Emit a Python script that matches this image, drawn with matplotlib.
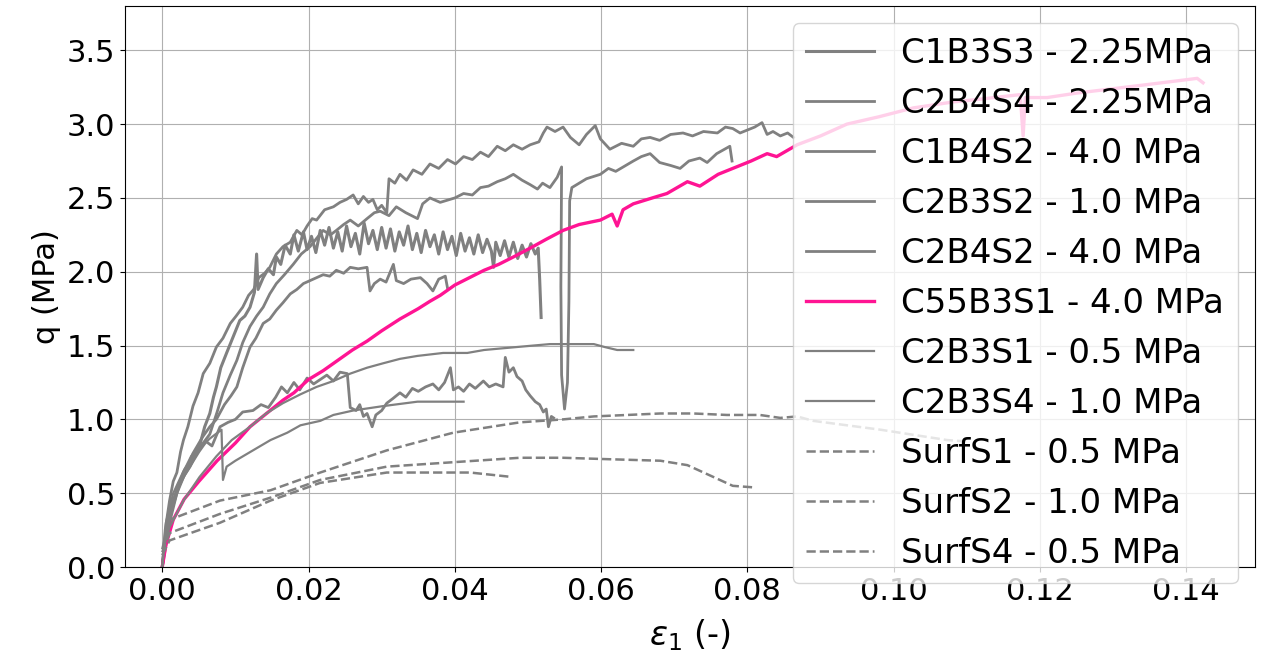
import numpy as np
import matplotlib
matplotlib.use('Agg')
import matplotlib.pyplot as plt

# strain eps_1 (-) and deviator stress q (MPa)

c1b3s3_x = [0, 0.0005, 0.001, 0.002, 0.0029, 0.004, 0.0051, 0.0058, 0.0065, 0.007,
            0.0074, 0.008, 0.0088, 0.0097, 0.0106, 0.0113, 0.012, 0.0126, 0.0129, 0.0131,
            0.0138, 0.0145, 0.0152, 0.0156, 0.0162, 0.0168, 0.0175, 0.018, 0.0186, 0.0193,
            0.0198, 0.0204, 0.021, 0.0216, 0.0222, 0.0228, 0.0234, 0.024, 0.0246, 0.0252,
            0.0258, 0.0264, 0.027, 0.0276, 0.0282, 0.0288, 0.0294, 0.03, 0.0306, 0.0312,
            0.0318, 0.0324, 0.033, 0.0336, 0.0342, 0.0348, 0.0354, 0.036, 0.0366, 0.0372,
            0.0378, 0.0384, 0.039, 0.0396, 0.0402, 0.0408, 0.0414, 0.042, 0.0426, 0.0432,
            0.0438, 0.0444, 0.045, 0.0453, 0.0456, 0.0462, 0.0468, 0.0474, 0.048, 0.0486,
            0.0492, 0.0498, 0.0504, 0.051, 0.0514, 0.0516, 0.0518]
c1b3s3_q = [0, 0.22, 0.36, 0.52, 0.64, 0.75, 0.82, 0.95, 1.04, 1.15,
            1.22, 1.35, 1.45, 1.56, 1.67, 1.70, 1.76, 1.86, 2.12, 1.88,
            1.96, 2.02, 1.98, 2.10, 2.05, 2.18, 2.12, 2.25, 2.14, 2.27,
            2.15, 2.24, 2.13, 2.28, 2.18, 2.30, 2.16, 2.27, 2.14, 2.31,
            2.17, 2.26, 2.12, 2.33, 2.19, 2.28, 2.15, 2.30, 2.16, 2.29,
            2.14, 2.27, 2.18, 2.31, 2.15, 2.26, 2.13, 2.28, 2.17, 2.25,
            2.12, 2.27, 2.15, 2.24, 2.11, 2.26, 2.14, 2.23, 2.12, 2.25,
            2.13, 2.22, 2.14, 2.03, 2.20, 2.11, 2.21, 2.10, 2.20, 2.09,
            2.18, 2.10, 2.19, 2.12, 2.16, 1.95, 1.69]

c2b4s4_x = [0, 0.001, 0.002, 0.003, 0.0042, 0.0055, 0.0065, 0.0074, 0.0085, 0.0094,
            0.0102, 0.011, 0.012, 0.0128, 0.0138, 0.0147, 0.0156, 0.0165, 0.0175, 0.0184,
            0.0193, 0.0202, 0.0211, 0.022, 0.0229, 0.0238, 0.0248, 0.0257, 0.0268, 0.028,
            0.0284, 0.029, 0.0298, 0.0306, 0.0316, 0.032, 0.033, 0.034, 0.0353, 0.0362,
            0.037, 0.0378, 0.0387, 0.039]
c2b4s4_q = [0, 0.30, 0.50, 0.62, 0.77, 0.88, 0.95, 1.00, 1.10, 1.16,
            1.22, 1.35, 1.49, 1.55, 1.65, 1.68, 1.74, 1.79, 1.85, 1.88,
            1.92, 1.94, 1.96, 1.98, 1.97, 2.01, 1.99, 2.03, 2.02, 2.03,
            1.87, 1.92, 1.95, 1.93, 2.05, 1.94, 1.92, 1.95, 1.96, 1.92,
            1.87, 1.95, 1.97, 1.89]

c1b4s2_x = [0, 0.0004, 0.001, 0.0015, 0.002, 0.0025, 0.0029, 0.0035, 0.0042, 0.0049,
            0.0056, 0.0065, 0.0074, 0.0083, 0.0093, 0.0101, 0.011, 0.0118, 0.0125, 0.0132,
            0.014, 0.0147, 0.0156, 0.0165, 0.0175, 0.0184, 0.0191, 0.0198, 0.0205, 0.0211,
            0.0222, 0.0234, 0.0243, 0.0252, 0.0261, 0.0268, 0.0275, 0.0282, 0.0288, 0.0294,
            0.030, 0.0307, 0.031, 0.0318, 0.0325, 0.0334, 0.0343, 0.0355, 0.0366, 0.0378,
            0.039, 0.0401, 0.0412, 0.0424, 0.0435, 0.0446, 0.0458, 0.0469, 0.048, 0.0492,
            0.0503, 0.0515, 0.0521, 0.0526, 0.0537, 0.0548, 0.0558, 0.057, 0.058, 0.0592,
            0.0599, 0.0612, 0.0628, 0.0644, 0.0655, 0.0667, 0.068, 0.0695, 0.0712, 0.0725,
            0.074, 0.0759, 0.077, 0.078, 0.079, 0.080, 0.081, 0.082, 0.0827, 0.0835,
            0.0845, 0.0855, 0.0863]
c1b4s2_q = [0, 0.25, 0.45, 0.58, 0.64, 0.78, 0.86, 0.95, 1.09, 1.18,
            1.31, 1.38, 1.49, 1.55, 1.65, 1.70, 1.76, 1.84, 1.88, 1.96,
            1.99, 2.03, 2.12, 2.17, 2.20, 2.28, 2.25, 2.31, 2.36, 2.35,
            2.42, 2.44, 2.47, 2.49, 2.52, 2.46, 2.51, 2.47, 2.49, 2.42,
            2.45, 2.40, 2.63, 2.60, 2.66, 2.62, 2.69, 2.66, 2.73, 2.70,
            2.76, 2.73, 2.78, 2.76, 2.81, 2.78, 2.85, 2.82, 2.86, 2.83,
            2.86, 2.88, 2.94, 2.98, 2.95, 2.98, 2.91, 2.86, 2.93, 2.99,
            2.90, 2.83, 2.87, 2.85, 2.90, 2.91, 2.89, 2.93, 2.94, 2.92,
            2.95, 2.94, 2.98, 2.97, 2.94, 2.96, 2.98, 3.01, 2.93, 2.95,
            2.92, 2.94, 2.91]

c2b3s2_x = [0, 0.0005, 0.001, 0.002, 0.003, 0.004, 0.005, 0.006, 0.0068, 0.0079,
            0.009, 0.010, 0.011, 0.0124, 0.0135, 0.0145, 0.0155, 0.0163, 0.0171, 0.018,
            0.0188, 0.0198, 0.0207, 0.0216, 0.0225, 0.0234, 0.0243, 0.0253, 0.0257, 0.0265,
            0.027, 0.0275, 0.028, 0.0287, 0.0292, 0.03, 0.0307, 0.0315, 0.0325, 0.0333,
            0.0342, 0.035, 0.036, 0.037, 0.0378, 0.0386, 0.0394, 0.0398, 0.0405, 0.0412,
            0.042, 0.0428, 0.0439, 0.0447, 0.0456, 0.0466, 0.0469, 0.0474, 0.048, 0.0485,
            0.0492, 0.0497, 0.0503, 0.051, 0.0516, 0.0521, 0.0525, 0.0528, 0.0532, 0.0535]
c2b3s2_q = [0, 0.25, 0.38, 0.52, 0.62, 0.70, 0.78, 0.85, 0.82, 0.95,
            0.98, 1.00, 1.05, 1.06, 1.10, 1.08, 1.15, 1.22, 1.18, 1.25,
            1.20, 1.28, 1.24, 1.27, 1.30, 1.26, 1.32, 1.31, 1.08, 1.06,
            1.10, 1.02, 1.04, 0.95, 1.03, 1.06, 1.11, 1.14, 1.18, 1.15,
            1.21, 1.19, 1.22, 1.24, 1.20, 1.25, 1.35, 1.20, 1.22, 1.19,
            1.24, 1.21, 1.26, 1.22, 1.24, 1.22, 1.42, 1.32, 1.35, 1.29,
            1.26, 1.20, 1.16, 1.12, 1.10, 1.05, 1.07, 0.95, 1.02, 1.01]

c2b4s2_x = [0, 0.0008, 0.0015, 0.0025, 0.0038, 0.005, 0.0065, 0.0075, 0.0083, 0.0093,
            0.0102, 0.011, 0.012, 0.0129, 0.0138, 0.0147, 0.0156, 0.0167, 0.0179, 0.019,
            0.0202, 0.021, 0.022, 0.023, 0.0238, 0.0248, 0.0257, 0.0268, 0.028, 0.029,
            0.0298, 0.031, 0.032, 0.0333, 0.0349, 0.0356, 0.0366, 0.038, 0.040, 0.0412,
            0.0424, 0.0435, 0.0446, 0.0458, 0.0469, 0.048, 0.0492, 0.0503, 0.0513, 0.052,
            0.053, 0.054, 0.0546, 0.0545, 0.0546, 0.0550, 0.0554, 0.0556, 0.0557, 0.056,
            0.057, 0.058, 0.0599, 0.061, 0.062, 0.0644, 0.0655, 0.0667, 0.068, 0.0695,
            0.0708, 0.072, 0.0735, 0.0745, 0.0758, 0.0776, 0.0779]
c2b4s2_q = [0, 0.30, 0.42, 0.58, 0.68, 0.80, 0.90, 1.05, 1.18, 1.30,
            1.40, 1.52, 1.63, 1.70, 1.76, 1.85, 1.92, 1.98, 2.05, 2.12,
            2.17, 2.22, 2.28, 2.25, 2.28, 2.32, 2.35, 2.31, 2.36, 2.40,
            2.41, 2.38, 2.44, 2.40, 2.36, 2.46, 2.50, 2.47, 2.50, 2.53,
            2.52, 2.57, 2.58, 2.61, 2.63, 2.66, 2.62, 2.59, 2.56, 2.60,
            2.57, 2.64, 2.71, 1.90, 1.30, 1.07, 1.25, 1.80, 2.48, 2.57,
            2.60, 2.63, 2.66, 2.70, 2.68, 2.75, 2.78, 2.80, 2.74, 2.72,
            2.70, 2.75, 2.77, 2.74, 2.80, 2.85, 2.75]

c55b3s1_x = [0, 0.0005, 0.0015, 0.003, 0.005, 0.0075, 0.01, 0.012, 0.0145, 0.0165,
             0.018, 0.02, 0.022, 0.024, 0.026, 0.028, 0.03, 0.0325, 0.035, 0.0366,
             0.038, 0.04, 0.042, 0.044, 0.046, 0.048, 0.0503, 0.0525, 0.0548, 0.057,
             0.0599, 0.0615, 0.0622, 0.063, 0.0644, 0.067, 0.069, 0.0718, 0.0735, 0.076,
             0.078, 0.0805, 0.0827, 0.084, 0.0868, 0.09, 0.0936, 0.098, 0.1027, 0.1081,
             0.112, 0.1173, 0.1177, 0.118, 0.121, 0.125, 0.130, 0.135, 0.1415, 0.1423]
c55b3s1_q = [0, 0.15, 0.32, 0.46, 0.58, 0.72, 0.84, 0.95, 1.05, 1.13,
             1.18, 1.27, 1.33, 1.40, 1.47, 1.53, 1.60, 1.68, 1.75, 1.80,
             1.84, 1.91, 1.96, 2.01, 2.05, 2.10, 2.16, 2.22, 2.28, 2.32,
             2.35, 2.39, 2.31, 2.42, 2.46, 2.50, 2.53, 2.61, 2.58, 2.66,
             2.70, 2.75, 2.80, 2.78, 2.86, 2.92, 3.00, 3.05, 3.11, 3.15,
             3.17, 3.20, 2.92, 3.18, 3.18, 3.21, 3.24, 3.27, 3.31, 3.28]

c2b3s1_x = [0, 0.0005, 0.0015, 0.003, 0.005, 0.0065, 0.0081, 0.0083, 0.0088, 0.010,
            0.0124, 0.0148, 0.0171, 0.0189, 0.0216, 0.0234, 0.0261, 0.0302, 0.0349, 0.038,
            0.0412]
c2b3s1_q = [0, 0.30, 0.50, 0.66, 0.80, 0.87, 0.93, 0.59, 0.68, 0.72,
            0.79, 0.86, 0.91, 0.96, 0.99, 1.03, 1.06, 1.09, 1.12, 1.12,
            1.12]

c2b3s4_x = [0, 0.0003, 0.001, 0.0029, 0.0051, 0.0074, 0.0095, 0.012, 0.0142, 0.0165,
            0.0189, 0.0211, 0.0234, 0.0257, 0.028, 0.0302, 0.0325, 0.0349, 0.0384, 0.0417,
            0.044, 0.0462, 0.0507, 0.053, 0.0554, 0.059, 0.0605, 0.0622, 0.0644]
c2b3s4_q = [0, 0.15, 0.27, 0.45, 0.61, 0.75, 0.86, 0.95, 1.04, 1.11,
            1.17, 1.22, 1.26, 1.31, 1.35, 1.38, 1.41, 1.43, 1.45, 1.45,
            1.47, 1.48, 1.50, 1.51, 1.51, 1.51, 1.49, 1.47, 1.47]

surfs1_x = [0, 0.001, 0.0079, 0.0148, 0.0216, 0.0307, 0.0398, 0.0489, 0.0548, 0.059,
            0.0636, 0.0681, 0.0726, 0.0772, 0.0817, 0.0845, 0.0868, 0.089, 0.0982, 0.1073,
            0.110]
surfs1_q = [0.12, 0.32, 0.45, 0.52, 0.64, 0.79, 0.91, 0.98, 1.00, 1.02,
            1.03, 1.04, 1.04, 1.03, 1.03, 1.01, 1.02, 0.99, 0.93, 0.86,
            0.85]

surfs2_x = [0, 0.001, 0.0079, 0.0148, 0.0216, 0.0307, 0.0398, 0.0489, 0.0548, 0.0612,
            0.0681, 0.0718, 0.0749, 0.078, 0.0807]
surfs2_q = [0.10, 0.23, 0.36, 0.47, 0.59, 0.68, 0.71, 0.74, 0.74, 0.73,
            0.72, 0.69, 0.62, 0.55, 0.54]

surfs4_x = [0, 0.001, 0.0079, 0.0148, 0.0216, 0.0307, 0.0376, 0.0421, 0.0478]
surfs4_q = [0.08, 0.18, 0.30, 0.45, 0.57, 0.64, 0.64, 0.64, 0.61]

# (label, x, q, linewidth)
solid = [
    ('C1B3S3 - 2.25MPa', c1b3s3_x, c1b3s3_q, 2.2),
    ('C2B4S4 - 2.25MPa', c2b4s4_x, c2b4s4_q, 2.0),
    ('C1B4S2 - 4.0 MPa', c1b4s2_x, c1b4s2_q, 2.0),
    ('C2B3S2 - 1.0 MPa', c2b3s2_x, c2b3s2_q, 2.0),
    ('C2B4S2 - 4.0 MPa', c2b4s2_x, c2b4s2_q, 2.0),
]
solid_after = [
    ('C2B3S1 - 0.5 MPa', c2b3s1_x, c2b3s1_q, 1.6),
    ('C2B3S4 - 1.0 MPa', c2b3s4_x, c2b3s4_q, 1.6),
]
dashed = [
    ('SurfS1 - 0.5 MPa', surfs1_x, surfs1_q),
    ('SurfS2 - 1.0 MPa', surfs2_x, surfs2_q),
    ('SurfS4 - 0.5 MPa', surfs4_x, surfs4_q),
]

plt.rcParams['font.size'] = 22
fig = plt.figure(figsize=(12.66, 6.54), dpi=100)
ax = fig.add_subplot(111)
fig.subplots_adjust(left=0.0987, right=0.9913, top=0.9908, bottom=0.133)

for label, x, q, lw in solid:
    ax.plot(x, q, color='grey', lw=lw, label=label)
ax.plot(c55b3s1_x, c55b3s1_q, color='deeppink', lw=2.4, label='C55B3S1 - 4.0 MPa')
for label, x, q, lw in solid_after:
    ax.plot(x, q, color='grey', lw=lw, label=label)
for label, x, q in dashed:
    ax.plot(x, q, color='grey', lw=1.8, ls='--', label=label)

ax.set_xlim(-0.0051, 0.1494)
ax.set_ylim(0, 3.8)
ax.set_xticks(np.arange(0, 0.141, 0.02))
ax.set_yticks(np.arange(0, 3.51, 0.5))
ax.grid(True)
ax.set_xlabel(r'$\varepsilon_1$ (-)', fontsize=24, labelpad=8)
ax.set_ylabel('q (MPa)')
ax.legend(loc='upper right', fontsize=24.5)

fig.savefig('out.png', dpi=100)
